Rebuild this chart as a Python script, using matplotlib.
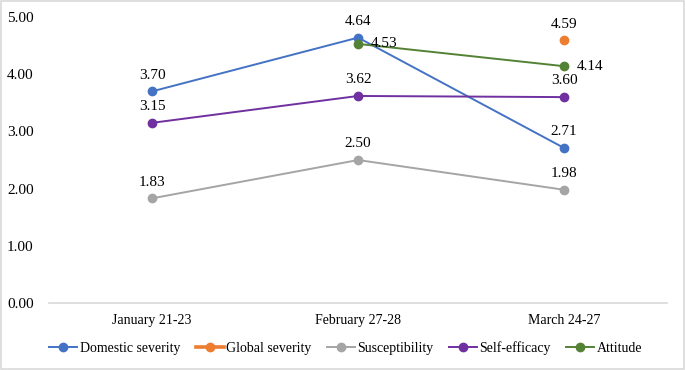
import numpy as np
import matplotlib
matplotlib.use('Agg')
import matplotlib.pyplot as plt

# ---- data ----
periods = ["January 21-23", "February 27-28", "March 24-27"]
domestic = [3.70, 4.64, 2.71]
global_sev = [np.nan, np.nan, 4.59]
suscept = [1.83, 2.50, 1.98]
self_eff = [3.15, 3.62, 3.60]
attitude = [np.nan, 4.53, 4.14]
yticks = [0, 1, 2, 3, 4, 5]

series = [
    ("Domestic severity", domestic, "#4472C4", 1.4),
    ("Global severity", global_sev, "#ED7D31", 2.6),
    ("Susceptibility", suscept, "#A5A5A5", 1.4),
    ("Self-efficacy", self_eff, "#7030A0", 1.4),
    ("Attitude", attitude, "#548235", 1.4),
]
# labels drawn to the right of the point instead of above
right_labels = {("Attitude", 1), ("Attitude", 2)}

plt.rcParams['font.family'] = ['Liberation Serif', 'DejaVu Serif']

fig = plt.figure(figsize=(6.85, 3.7), dpi=100)
ax = fig.add_axes([0.0715, 0.181, 0.9025, 0.773])

x = np.arange(len(periods))
for name, vals, col, lw in series:
    ax.plot(x, vals, color=col, lw=lw, marker='o', markersize=6,
            label=name, zorder=3)
    for i, v in enumerate(vals):
        if np.isnan(v):
            continue
        if (name, i) in right_labels:
            ax.annotate(f"{v:.2f}", (i, v), xytext=(9, 0),
                        textcoords='offset points', ha='left', va='center',
                        fontsize=11)
        else:
            ax.annotate(f"{v:.2f}", (i, v), xytext=(0, 7),
                        textcoords='offset points', ha='center', va='bottom',
                        fontsize=11)

ax.set_xlim(-0.5, len(periods) - 0.5)
ax.set_ylim(0, 5)
ax.set_yticks(yticks)
ax.set_yticklabels([f"{t:.2f}" for t in yticks], fontsize=11)
ax.set_xticks(x)
ax.set_xticklabels(periods, fontsize=10)
ax.tick_params(length=0, pad=8)
ax.tick_params(axis='y', pad=11)
for s in ['top', 'right', 'left']:
    ax.spines[s].set_visible(False)
ax.spines['bottom'].set_color('#D9D9D9')
ax.spines['bottom'].set_linewidth(1.2)

fig.legend(loc='center', bbox_to_anchor=(0.505, 0.06), ncol=5, frameon=False,
           fontsize=10, handlelength=2.0, handletextpad=0.2, columnspacing=1.1)

fig.patches.append(plt.Rectangle((0.001, 0.002), 0.997, 0.995, transform=fig.transFigure,
                                 fill=False, edgecolor='#D9D9D9', lw=1.2))

fig.savefig('out.png', dpi=100)
